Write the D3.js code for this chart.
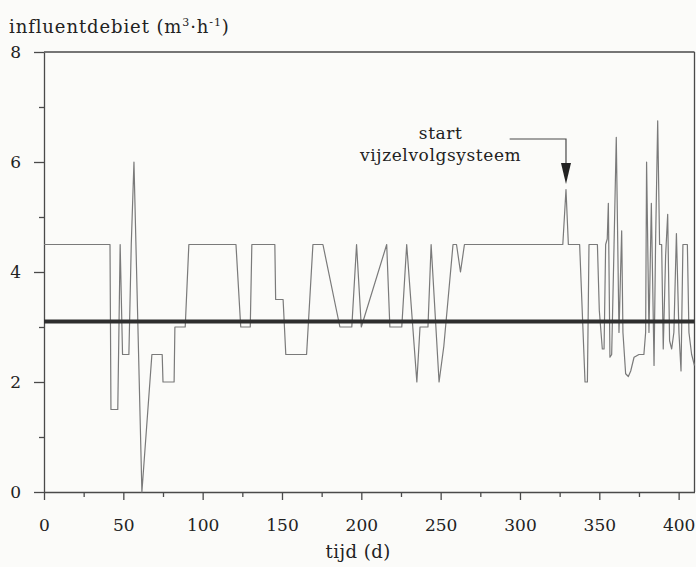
<!DOCTYPE html>
<html>
<head>
<meta charset="UTF-8">
<title>influentdebiet</title>
<script src="https://cdn.jsdelivr.net/npm/d3@7"></script>
<style>
body { margin: 0; background: #fbfbf9; }
svg { display: block; background: #fbfbf9; }
text { font-family: "DejaVu Serif", "Liberation Serif", serif; fill: #222; }
.flow { fill: none; stroke: #7a7a7a; stroke-width: 1.2px; stroke-linejoin: round; }
.mean { fill: none; stroke: #2e2e2e; stroke-width: 4px; }
.frame { stroke: #4a4a4a; stroke-width: 1.3px; fill: none; }
</style>
</head>
<body>
<svg id="chart" width="696" height="567"></svg>
<script>
// dagen en debiet
var days = [0, 41.6, 42.2, 46.5, 48, 49.5, 53.5, 55, 56.7, 61.7, 68, 74.5, 75, 82, 82.5, 89, 91.3,
  121, 124, 130, 131, 145.5, 146, 150.7, 152.4, 165.5, 169.5, 175.8, 186.5, 194, 197, 200,
  216, 218, 225.5, 228.6, 235, 237, 242, 244, 249, 252, 257.8, 260, 262.5, 265,
  327, 329, 330.5, 337.6, 341, 342.5, 343.5, 348.8, 350, 351.9, 353, 354, 355, 355.7, 356.7,
  357.8, 359.3, 360.7, 362.4, 364.1, 364.9, 366.6, 368.3, 369.8, 371.9, 375, 378.1, 379.2,
  379.8, 381.3, 382.8, 384.5, 385.5, 386.8, 388, 389.3, 390.3, 391.8, 393.1, 394.3, 395.6,
  397, 398.6, 400.2, 401.5, 402.7, 405.5, 406.5, 408.2, 410];
var flow = [4.5, 4.5, 1.5, 1.5, 4.5, 2.5, 2.5, 4.5, 6.0, 0, 2.5, 2.5, 2.0, 2.0, 3.0, 3.0, 4.5,
  4.5, 3.0, 3.0, 4.5, 4.5, 3.5, 3.5, 2.5, 2.5, 4.5, 4.5, 3.0, 3.0, 4.5, 3.0,
  4.5, 3.0, 3.0, 4.5, 2.0, 3.0, 3.0, 4.5, 2.0, 2.65, 4.5, 4.5, 4.0, 4.5,
  4.5, 5.5, 4.5, 4.5, 2.0, 2.0, 4.5, 4.5, 3.3, 2.6, 2.6, 4.5, 4.6, 5.25, 2.45,
  2.5, 4.5, 6.45, 2.9, 4.75, 2.9, 2.15, 2.1, 2.2, 2.45, 2.5, 2.5, 2.9,
  6.0, 2.9, 5.25, 2.3, 4.6, 6.75, 4.5, 4.5, 2.6, 4.3, 5.05, 2.75, 2.6,
  2.9, 4.7, 2.9, 2.2, 4.5, 4.5, 2.9, 2.5, 2.3];
var meanDays = [0, 410];
var meanFlow = [3.1, 3.1];
var xTicks = [0, 50, 100, 150, 200, 250, 300, 350, 400];
var xMinor = [25, 75, 125, 175, 225, 275, 325, 375];
var yTicks = [0, 2, 4, 6, 8];
var yMinor = [1, 3, 5, 7];
var startDay = 329;

var svg = d3.select("#chart");
var x = d3.scaleLinear().domain([0, 410]).range([44, 694.5]);
var y = d3.scaleLinear().domain([0, 8]).range([492, 52]);

var data = days.map(function(d, i) { return {t: d, v: flow[i]}; });
var mean = meanDays.map(function(d, i) { return {t: d, v: meanFlow[i]}; });

var line = d3.line()
  .x(function(d) { return x(d.t); })
  .y(function(d) { return y(d.v); });

// kader
svg.append("line").attr("class", "frame")
  .attr("x1", x(0)).attr("x2", x(410)).attr("y1", y(8)).attr("y2", y(8));
svg.append("line").attr("class", "frame")
  .attr("x1", x(410)).attr("x2", x(410)).attr("y1", y(8)).attr("y2", y(0));

// assen
svg.append("g").attr("transform", "translate(0," + y(0) + ")")
  .call(d3.axisBottom(x).tickValues(xTicks).tickSize(8).tickPadding(19).tickSizeOuter(0));
svg.append("g").attr("transform", "translate(0," + y(0) + ")")
  .call(d3.axisBottom(x).tickValues(xMinor).tickSize(5).tickFormat("").tickSizeOuter(0))
  .select(".domain").remove();
svg.append("g").attr("transform", "translate(" + x(0) + ",0)")
  .call(d3.axisLeft(y).tickValues(yTicks).tickSize(10).tickPadding(13).tickSizeOuter(0));
svg.append("g").attr("transform", "translate(" + x(0) + ",0)")
  .call(d3.axisLeft(y).tickValues(yMinor).tickSize(5).tickFormat("").tickSizeOuter(0))
  .select(".domain").remove();

svg.selectAll(".domain, .tick line").attr("stroke", "#4a4a4a").attr("stroke-width", 1.3);
svg.selectAll(".tick text")
  .style("font-family", "'DejaVu Serif', serif").style("font-size", "17px").attr("fill", "#222");

// gemiddelde en debiet
svg.append("path").attr("class", "flow").attr("d", line(data));
svg.append("path").attr("class", "mean").attr("d", line(mean));

// titels
var title = svg.append("text").attr("x", 9).attr("y", 33)
  .style("font-size", "18px").style("letter-spacing", "0.9px");
title.append("tspan").text("influentdebiet (m");
title.append("tspan").attr("dy", -7).style("font-size", "11px").text("3");
title.append("tspan").attr("dy", 7).text("·h");
title.append("tspan").attr("dy", -7).style("font-size", "11px").text("-1");
title.append("tspan").attr("dy", 7).text(")");

svg.append("text").attr("x", x(198)).attr("y", 558)
  .attr("text-anchor", "middle").style("font-size", "18px").style("letter-spacing", "0.5px")
  .text("tijd (d)");

// annotatie
svg.append("text").attr("x", x(250)).attr("y", 139)
  .attr("text-anchor", "middle").style("font-size", "17px").style("letter-spacing", "0.6px")
  .text("start");
svg.append("text").attr("x", x(250)).attr("y", 161)
  .attr("text-anchor", "middle").style("font-size", "17px").style("letter-spacing", "0.6px")
  .text("vijzelvolgsysteem");

var ax = x(startDay);
svg.append("path")
  .attr("d", "M" + x(293.5) + "," + 139 + "H" + ax + "V" + 164)
  .attr("fill", "none").attr("stroke", "#4a4a4a").attr("stroke-width", 1.2);
svg.append("path")
  .attr("d", "M" + (ax - 5) + ",163L" + (ax + 5) + ",163L" + ax + ",184Z")
  .attr("fill", "#222");
</script>
</body>
</html>
